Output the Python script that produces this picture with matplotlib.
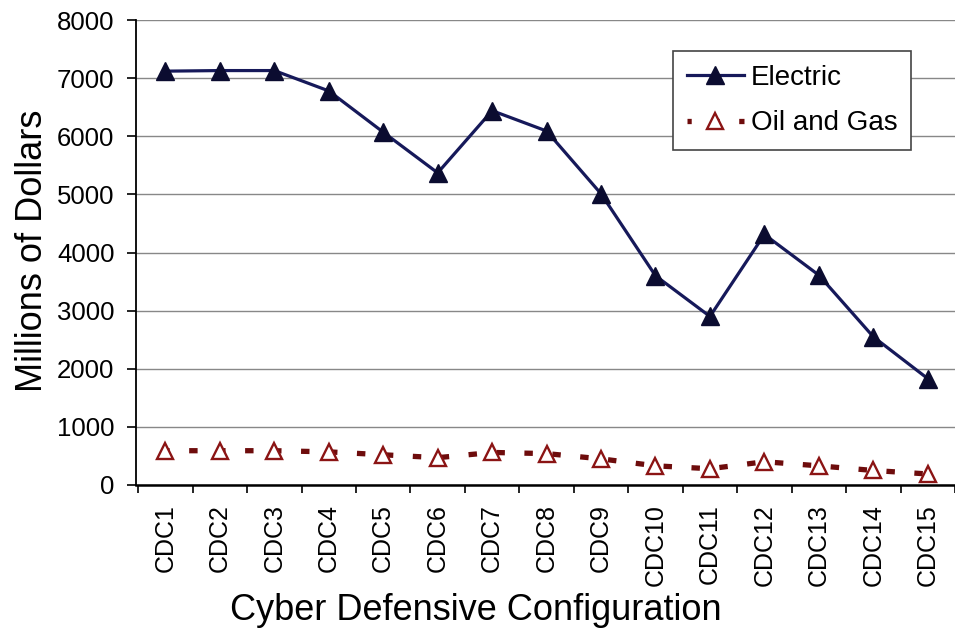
import matplotlib.pyplot as plt

plt.rcParams['font.family'] = ['Liberation Sans', 'DejaVu Sans']

categories = ['CDC%d' % i for i in range(1, 16)]
electric = [7120, 7130, 7130, 6780, 6070, 5370, 6440, 6090, 5010, 3600, 2900, 4310, 3610, 2550, 1830]
oil_gas = [590, 590, 590, 570, 520, 470, 560, 540, 450, 330, 280, 400, 330, 250, 190]

fig = plt.figure(figsize=(9.55, 6.36), dpi=100)
ax = fig.add_axes([136 / 955, 1 - 485 / 636, 819 / 955, 465 / 636])

x = list(range(len(categories)))
ax.plot(x, electric, color='#16195a', lw=2.3, marker='^', ms=12.5,
        markerfacecolor='#0b0c30', markeredgecolor='#0b0c30', label='Electric')
ax.plot(x, oil_gas, color='#6e0c0c', lw=3.8, ls=(0.8, (1.6, 3.7)), marker='^', ms=12,
        markerfacecolor='white', markeredgecolor='#8b1414', markeredgewidth=1.7,
        label='Oil and Gas')

ax.set_ylim(0, 8000)
ax.set_yticks(range(0, 8001, 1000))
ax.set_xlim(-0.54, 14.33)
ax.set_xticks(x)
ax.set_xticklabels(categories, rotation=90, fontsize=18)
ax.set_xticks([i + 0.5 for i in range(-1, 15)], minor=True)
ax.tick_params(axis='x', which='major', length=0, pad=14)
ax.tick_params(axis='x', which='minor', length=6, width=1.2, direction='out')
ax.tick_params(axis='y', labelsize=18.5, length=6.5, width=1.2, direction='out', pad=9)
ax.grid(axis='y', color='#888888', lw=1)
ax.set_axisbelow(True)
for s in ['top', 'right']:
    ax.spines[s].set_visible(False)
ax.spines['left'].set_linewidth(1.3)
ax.spines['bottom'].set_linewidth(1.8)

ax.set_ylabel('Millions of Dollars', fontsize=26)
ax.yaxis.set_label_coords(-0.105, 0.504)
ax.set_xlabel('Cyber Defensive Configuration', fontsize=26)
ax.xaxis.set_label_coords(0.415, -0.232)

leg = ax.legend(loc='upper left', bbox_to_anchor=(673 / 955, 1 - 51 / 636),
                bbox_transform=fig.transFigure, fontsize=20,
                frameon=True, fancybox=False, edgecolor='#444444',
                handlelength=2.05, handletextpad=0.25, borderpad=0.5,
                labelspacing=0.7, borderaxespad=0)
leg.get_frame().set_linewidth(1.2)
leg.get_frame().set_alpha(1)

plt.savefig('out.png', dpi=100)
